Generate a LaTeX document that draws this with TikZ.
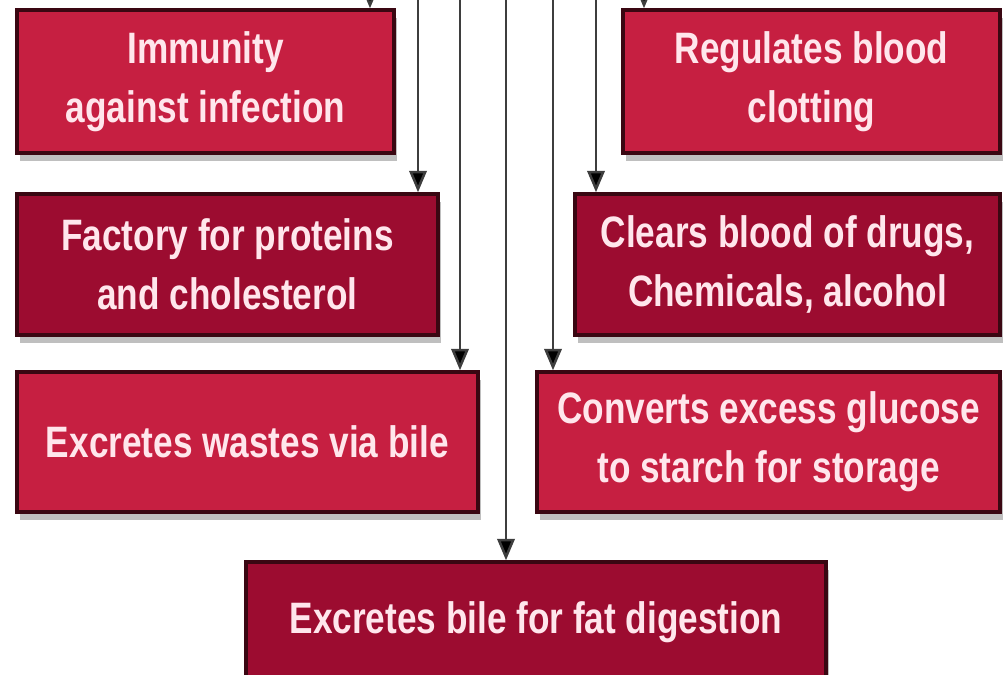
\documentclass[tikz,border=0pt]{standalone}
\usepackage{fontspec}
\setmainfont{Liberation Sans}[FakeStretch=0.80]
\usetikzlibrary{arrows.meta,shadows}
\definecolor{crim}{HTML}{C61F41}
\definecolor{dcrim}{HTML}{9C0C30}
\definecolor{edge}{HTML}{3A0712}
\definecolor{txt}{HTML}{FFE6EC}
\definecolor{wire}{HTML}{3E3E3E}
\tikzset{
  box/.style={rectangle, draw=edge, line width=2.6pt, text=txt,
    font=\fontsize{33}{44}\selectfont\bfseries, align=center, inner sep=0pt,
    drop shadow={shadow xshift=2pt, shadow yshift=-6pt, fill=black!25, opacity=1}},
  lbox/.style={box, fill=crim},
  dbox/.style={box, fill=dcrim},
  conn/.style={draw=wire, line width=1.9pt, -{Triangle[length=16pt,width=13pt,fill=black]}}
}
\begin{document}
\begin{tikzpicture}[x=0.75pt,y=-0.75pt]
\useasboundingbox (0,0) rectangle (1004,675);
\node[lbox, minimum width=282.75pt, minimum height=107.25pt] (b1) at (205.5,81.5) {Immunity\\against infection};
\node[lbox, minimum width=282.75pt, minimum height=107.25pt] (b2) at (811.5,81.5) {Regulates blood\\clotting};
\node[dbox, minimum width=315.75pt, minimum height=105.75pt] (b3) at (227.5,264.5) {Factory for proteins\\and cholesterol};
\node[dbox, minimum width=318.75pt, minimum height=105.75pt] (b4) at (787.5,264.5) {Clears blood of drugs,\\Chemicals, alcohol};
\node[lbox, minimum width=345.75pt, minimum height=105pt] (b5) at (247.5,442) {Excretes wastes via bile};
\node[lbox, minimum width=347.25pt, minimum height=105pt] (b6) at (768.5,442) {Converts excess glucose\\to starch for storage};
\node[dbox, minimum width=435pt, minimum height=90pt] (b7) at (536,622) {\raisebox{-4pt}{Excretes bile for fat digestion}};
\coordinate (t1) at (370,-2);
\coordinate (t3) at (418,-2);
\coordinate (t5) at (460,-2);
\coordinate (t7) at (506,-2);
\coordinate (t6) at (553,-2);
\coordinate (t4) at (596,-2);
\coordinate (t2) at (644,-2);
\draw[conn] (t1) -- (t1 |- b1.north);
\draw[conn] (t3) -- (t3 |- b3.north);
\draw[conn] (t5) -- (t5 |- b5.north);
\draw[conn] (t7) -- (t7 |- b7.north);
\draw[conn] (t6) -- (t6 |- b6.north);
\draw[conn] (t4) -- (t4 |- b4.north);
\draw[conn] (t2) -- (t2 |- b2.north);
\end{tikzpicture}
\end{document}
